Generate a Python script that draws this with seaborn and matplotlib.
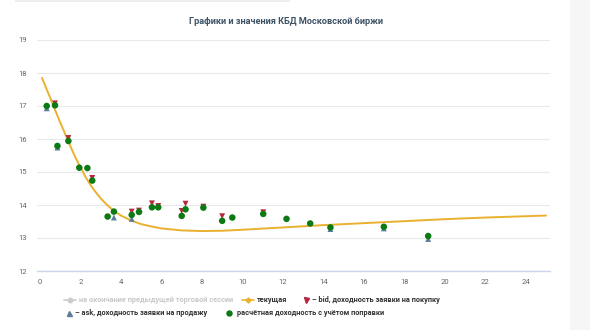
import matplotlib
matplotlib.use("Agg")
import matplotlib.pyplot as plt
from matplotlib.lines import Line2D
from matplotlib.patches import Rectangle
import seaborn as sns
import pandas as pd

# Zero-coupon yield curve (current)
curve_t = [0.1, 0.25, 0.5, 0.75, 1.0, 1.25, 1.5, 1.75, 2.0, 2.25, 2.5, 2.75, 3.0,
           3.25, 3.5, 3.75, 4.0, 4.5, 5.0, 5.5, 6.0, 7.0, 8.0, 9.0, 10.0, 12.0,
           14.0, 16.0, 18.0, 20.0, 22.0, 25.0]
curve_y = [17.85, 17.62, 17.25, 16.87, 16.5, 16.14, 15.78, 15.44, 15.14, 14.85,
           14.6, 14.39, 14.2, 14.04, 13.9, 13.78, 13.68, 13.53, 13.42, 13.35, 13.29,
           13.23, 13.21, 13.22, 13.25, 13.32, 13.39, 13.45, 13.51, 13.57, 13.62, 13.68]

# Bond points
bond_t = [0.33, 0.74, 0.86, 1.40, 1.94, 2.34, 2.58, 3.34, 3.65, 4.53, 4.89, 5.53,
          5.84, 7.00, 7.19, 8.07, 9.00, 9.50, 11.03, 12.18, 13.35, 14.35, 16.99, 19.18]
bond_y = [17.00, 17.02, 15.79, 15.94, 15.13, 15.12, 14.74, 13.65, 13.80, 13.70, 13.79,
          13.93, 13.93, 13.67, 13.87, 13.92, 13.52, 13.62, 13.73, 13.58, 13.44, 13.32,
          13.34, 13.06]

bid_t = [0.74, 1.40, 2.58, 4.53, 4.89, 5.53, 5.84, 7.00, 7.19, 8.07, 9.00, 11.03]
bid_y = [17.08, 16.03, 14.82, 13.80, 13.83, 14.05, 13.97, 13.82, 14.04, 13.95, 13.66, 13.78]

ask_t = [0.33, 0.86, 3.65, 4.53, 14.35, 16.99, 19.18]
ask_y = [16.93, 15.74, 13.62, 13.58, 13.27, 13.29, 12.97]

title = "Графики и значения КБД Московской биржи"
x_ticks = list(range(0, 26, 2))
y_ticks = list(range(12, 20))
legend_labels = ["на окончание предыдущей торговой сессии", "текущая",
                 "– bid, доходность заявки на покупку",
                 "– ask, доходность заявки на продажу",
                 "расчётная доходность с учётом поправки"]

sns.set_theme(style="white")
plt.rcParams['font.family'] = ['Roboto', 'DejaVu Sans']

W, H = 590, 330
fig = plt.figure(figsize=(5.9, 3.3), dpi=100)
fig.patch.set_facecolor("white")
fig.add_artist(Rectangle((570/W, 0), 20/W, 1, transform=fig.transFigure,
                         facecolor="#f6f6f6", edgecolor="none", zorder=0))
fig.add_artist(Rectangle((15/W, 1 - 2/H), 275/W, 2/H, transform=fig.transFigure,
                         facecolor="#eeeeee", edgecolor="none", zorder=0))

ax = fig.add_axes([37/W, 59/H, 513/W, 231/H])
ax.set_facecolor("white")

curve_df = pd.DataFrame({"t": curve_t, "y": curve_y})
bond_df = pd.DataFrame({"t": bond_t, "y": bond_y})
bid_df = pd.DataFrame({"t": bid_t, "y": bid_y})
ask_df = pd.DataFrame({"t": ask_t, "y": ask_y})

sns.lineplot(data=curve_df, x="t", y="y", ax=ax, color="#eab12f", lw=1.4, zorder=3)
sns.scatterplot(data=bid_df, x="t", y="y", ax=ax, marker="v", color="#b5283e",
                s=18, edgecolor="none", zorder=4)
sns.scatterplot(data=ask_df, x="t", y="y", ax=ax, marker="^", color="#5c7d99",
                s=18, edgecolor="none", zorder=4)
sns.scatterplot(data=bond_df, x="t", y="y", ax=ax, marker="o", color="#0b7a12",
                s=22, edgecolor="none", zorder=5)

ax.set_xlim(-0.15, 25.2)
ax.set_ylim(12, 19)
ax.set_xticks(x_ticks)
ax.set_yticks(y_ticks)
ax.set_xticklabels([str(v) for v in x_ticks], fontsize=5.5, color="#666666")
ax.set_yticklabels([str(v) for v in y_ticks], fontsize=5.5, color="#666666")
ax.set_xlabel("")
ax.set_ylabel("")
ax.grid(axis="y", color="#e9e9e9", lw=0.8)
ax.grid(axis="x", visible=False)
for s in ["top", "right", "left"]:
    ax.spines[s].set_visible(False)
ax.spines["bottom"].set_color("#ccd6eb")
ax.spines["bottom"].set_linewidth(1.0)
ax.tick_params(axis="x", length=4, width=0.8, color="#ccd6eb", pad=2)
ax.tick_params(axis="y", length=0, pad=7)
ax.set_axisbelow(True)

fig.text(286/W, 1 - 21/H, title, ha="center", va="center", fontsize=6.6,
         fontweight="bold", color="#3e5366")

# legend, placed item by item
def fx(px):
    return px / W

def fy(py):
    return 1 - py / H

r1, r2 = 300, 313
fig.add_artist(Line2D([fx(64), fx(76)], [fy(r1), fy(r1)], color="#cccccc", lw=1.2,
                      transform=fig.transFigure))
fig.add_artist(Line2D([fx(70)], [fy(r1)], color="#cccccc", marker="o", ms=3.2, lw=0,
                      transform=fig.transFigure))
fig.add_artist(Line2D([fx(242), fx(254)], [fy(r1), fy(r1)], color="#eab12f", lw=1.2,
                      transform=fig.transFigure))
fig.add_artist(Line2D([fx(248)], [fy(r1)], color="#eab12f", marker="D", ms=2.6, lw=0,
                      transform=fig.transFigure))
fig.add_artist(Line2D([fx(306)], [fy(r1)], color="#b5283e", marker="v", ms=3.6, lw=0,
                      transform=fig.transFigure))
fig.add_artist(Line2D([fx(69)], [fy(r2)], color="#5c7d99", marker="^", ms=3.6, lw=0,
                      transform=fig.transFigure))
fig.add_artist(Line2D([fx(229)], [fy(r2)], color="#0b7a12", marker="o", ms=3.6, lw=0,
                      transform=fig.transFigure))

text_pos = [(79, r1, "#c8c8c8"), (257, r1, "#333333"), (312, r1, "#333333"),
            (75, r2, "#333333"), (237, r2, "#333333")]
for (px, py, col), lab in zip(text_pos, legend_labels):
    fig.text(fx(px), fy(py), lab, ha="left", va="center", fontsize=5.3,
             fontweight="semibold", color=col)

fig.savefig("out.png", dpi=100)
